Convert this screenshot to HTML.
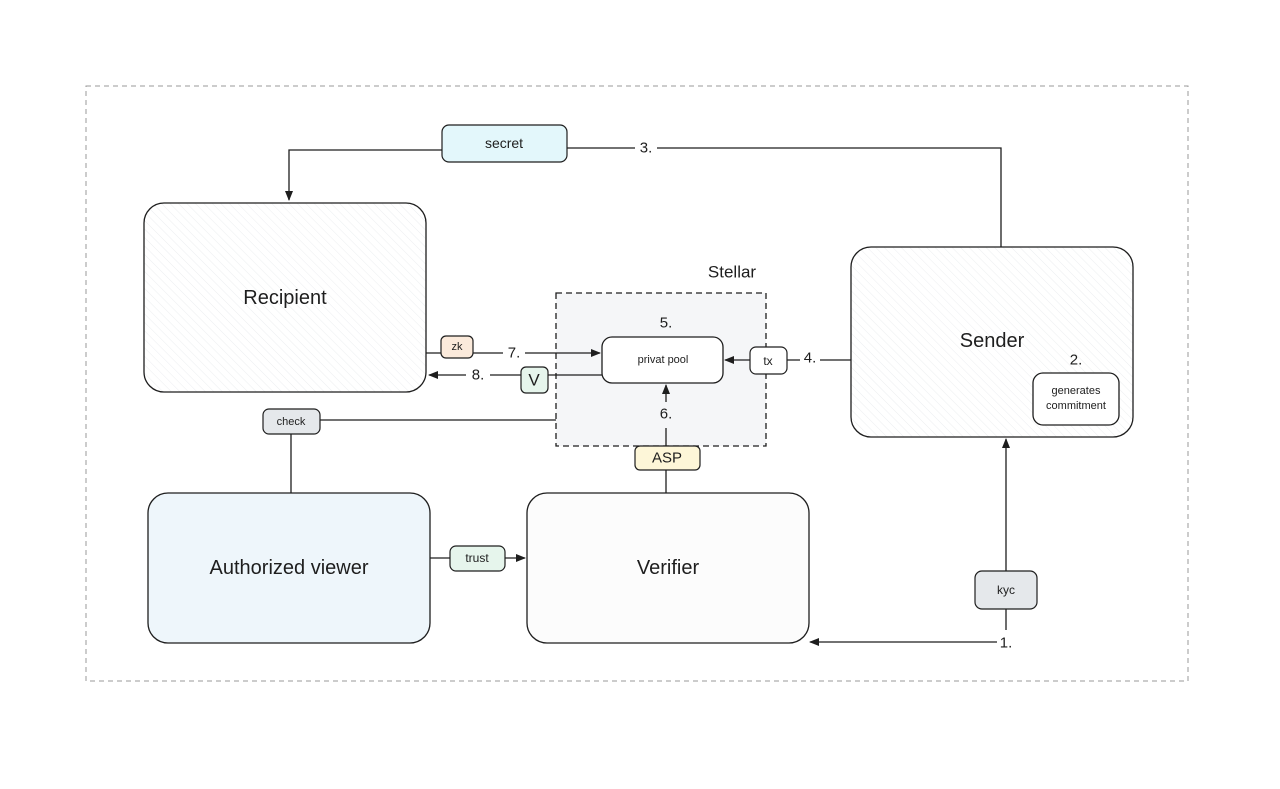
<!DOCTYPE html>
<html><head><meta charset="utf-8"><style>
html,body{margin:0;padding:0;background:#fff;}
svg{display:block;font-family:"Liberation Sans",sans-serif;}
</style></head><body>
<svg width="1280" height="789" viewBox="0 0 1280 789" xmlns="http://www.w3.org/2000/svg">
<defs>
<marker id="a" markerWidth="10" markerHeight="10" refX="9" refY="5" orient="auto" markerUnits="userSpaceOnUse"><path d="M0,1 L10,5 L0,9 z" fill="#1e1e1e"/></marker>
<pattern id="h" width="6" height="6" patternUnits="userSpaceOnUse" patternTransform="rotate(-45)"><line x1="0" y1="0" x2="0" y2="6" stroke="#eceef0" stroke-width="1"/></pattern>
</defs>
<rect x="86" y="86" width="1102" height="595" fill="none" stroke="#999" stroke-dasharray="5,4"/>
<rect x="556" y="293" width="210" height="153" fill="#f5f6f8" stroke="#1e1e1e" stroke-width="1.3" stroke-dasharray="6,4"/>
<g fill="none" stroke="#1e1e1e" stroke-width="1.3">
<path d="M567,148 H635 M657,148 H1001 V247"/>
<path d="M442,150 H289 V200" marker-end="url(#a)"/>
<path d="M426,353 H441 M473,353 H503"/>
<path d="M525,353 H600" marker-end="url(#a)"/>
<path d="M602,375 H548 M521,375 H490"/>
<path d="M466,375 H429" marker-end="url(#a)"/>
<path d="M787,360 H800 M820,360 H851"/>
<path d="M750,360 H725" marker-end="url(#a)"/>
<path d="M666,446 V428"/>
<path d="M666,402 V385" marker-end="url(#a)"/>
<path d="M666,470 V493"/>
<path d="M320,420 H556 M291,434 V493"/>
<path d="M430,558 H450"/>
<path d="M505,558 H525" marker-end="url(#a)"/>
<path d="M1006,571 V439" marker-end="url(#a)"/>
<path d="M1006,609 V630"/>
<path d="M997,642 H810" marker-end="url(#a)"/>
</g>
<rect x="144" y="203" width="282" height="189" rx="20" fill="url(#h)" stroke="#1e1e1e" stroke-width="1.3"/>
<rect x="851" y="247" width="282" height="190" rx="20" fill="url(#h)" stroke="#1e1e1e" stroke-width="1.3"/>
<rect x="148" y="493" width="282" height="150" rx="20" fill="#eef6fb" stroke="#1e1e1e" stroke-width="1.3"/>
<rect x="527" y="493" width="282" height="150" rx="20" fill="#fcfcfc" stroke="#1e1e1e" stroke-width="1.3"/>
<rect x="602" y="337" width="121" height="46" rx="10" fill="#fff" stroke="#1e1e1e" stroke-width="1.3"/>
<rect x="1033" y="373" width="86" height="52" rx="10" fill="#fff" stroke="#1e1e1e" stroke-width="1.3"/>
<rect x="442" y="125" width="125" height="37" rx="7" fill="#e3f7fb" stroke="#1e1e1e" stroke-width="1.2"/>
<rect x="441" y="336" width="32" height="22" rx="5" fill="#fbeadb" stroke="#1e1e1e" stroke-width="1.2"/>
<rect x="521" y="367" width="27" height="26" rx="5" fill="#e6f5ec" stroke="#1e1e1e" stroke-width="1.2"/>
<rect x="750" y="347" width="37" height="27" rx="6" fill="#fff" stroke="#1e1e1e" stroke-width="1.2"/>
<rect x="635" y="446" width="65" height="24" rx="5" fill="#fdf6d8" stroke="#1e1e1e" stroke-width="1.2"/>
<rect x="263" y="409" width="57" height="25" rx="6" fill="#e5e8eb" stroke="#1e1e1e" stroke-width="1.2"/>
<rect x="450" y="546" width="55" height="25" rx="6" fill="#e6f5ec" stroke="#1e1e1e" stroke-width="1.2"/>
<rect x="975" y="571" width="62" height="38" rx="7" fill="#e5e8eb" stroke="#1e1e1e" stroke-width="1.2"/>
<g fill="#1e1e1e" text-anchor="middle" dominant-baseline="central">
<text x="285" y="298" font-size="20">Recipient</text>
<text x="992" y="341" font-size="20">Sender</text>
<text x="289" y="568" font-size="20">Authorized viewer</text>
<text x="668" y="568" font-size="20">Verifier</text>
<text x="732" y="272" font-size="17">Stellar</text>
<text x="504" y="143" font-size="14">secret</text>
<text x="646" y="148" font-size="15">3.</text>
<text x="457" y="347" font-size="11">zk</text>
<text x="514" y="353" font-size="15">7.</text>
<text x="478" y="375" font-size="15">8.</text>
<text x="534" y="380" font-size="17">V</text>
<text x="663" y="360" font-size="11">privat pool</text>
<text x="666" y="323" font-size="15">5.</text>
<text x="768" y="361" font-size="12">tx</text>
<text x="810" y="358" font-size="15">4.</text>
<text x="666" y="414" font-size="15">6.</text>
<text x="667" y="458" font-size="15">ASP</text>
<text x="291" y="422" font-size="11">check</text>
<text x="477" y="558" font-size="12">trust</text>
<text x="1006" y="590" font-size="12">kyc</text>
<text x="1006" y="643" font-size="15">1.</text>
<text x="1076" y="360" font-size="15">2.</text>
<text x="1076" y="391" font-size="11">generates</text>
<text x="1076" y="406" font-size="11">commitment</text>
</g>
</svg>
</body></html>
